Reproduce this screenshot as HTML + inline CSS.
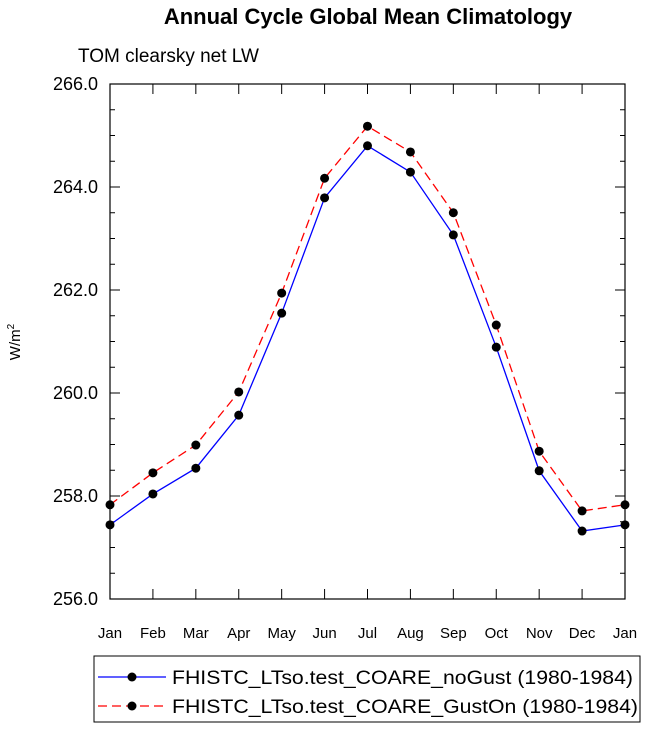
<!DOCTYPE html>
<html><head><meta charset="utf-8"><style>
body{margin:0;background:#fff;font-family:"Liberation Sans",Arial,sans-serif;}
</style></head><body>
<svg width="647" height="733" xmlns="http://www.w3.org/2000/svg" font-family="Liberation Sans, Arial, sans-serif">
<text x="368" y="24" text-anchor="middle" font-size="22" font-weight="bold">Annual Cycle Global Mean Climatology</text>
<text x="78" y="62" font-size="19">TOM clearsky net LW</text>
<text transform="translate(20,342) rotate(-90)" text-anchor="middle" font-size="15">W/m<tspan dy="-6" font-size="10">2</tspan></text>
<g id="axes"></g>
<g id="series"></g>
<g>
<rect x="94" y="656" width="546" height="66" fill="none" stroke="#000" stroke-width="1"/>
<line x1="98" y1="677" x2="166" y2="677" stroke="#0000ff" stroke-width="1.2"/>
<circle cx="132" cy="677" r="4.5" fill="#000"/>
<text x="172" y="684" font-size="19" textLength="461" lengthAdjust="spacingAndGlyphs">FHISTC_LTso.test_COARE_noGust (1980-1984)</text>
<line x1="98" y1="706" x2="166" y2="706" stroke="#ff0000" stroke-width="1.2" stroke-dasharray="9,5"/>
<circle cx="132" cy="706" r="4.5" fill="#000"/>
<text x="172" y="713" font-size="19" textLength="466" lengthAdjust="spacingAndGlyphs">FHISTC_LTso.test_COARE_GustOn (1980-1984)</text>
</g>
</svg>
<script>
const months=["Jan","Feb","Mar","Apr","May","Jun","Jul","Aug","Sep","Oct","Nov","Dec","Jan"];
const noGust=[257.44,258.04,258.54,259.57,261.55,263.79,264.80,264.29,263.07,260.89,258.49,257.32,257.44];
const gustOn=[257.83,258.45,258.99,260.02,261.94,264.17,265.18,264.68,263.50,261.32,258.87,257.71,257.83];
const yTicks=[256,258,260,262,264,266];
const L=110,R=625,T=84,B=599,ymin=256,ymax=266;
const NS="http://www.w3.org/2000/svg";
const xs=i=>L+(R-L)*i/(months.length-1);
const ys=v=>B-(B-T)*(v-ymin)/(ymax-ymin);
function mk(t,a,p){const e=document.createElementNS(NS,t);for(const k in a)e.setAttribute(k,a[k]);p.appendChild(e);return e;}
const ax=document.getElementById('axes');
const frame=mk('rect',{x:L,y:T,width:R-L,height:B-T,fill:'none',stroke:'#000','stroke-width':1.2},ax);


for(let v=ymin;v<=ymax+1e-9;v+=0.5){
 const maj=Math.abs(v/2-Math.round(v/2))<1e-9;const len=maj?10:5;const y=ys(v);
 mk('line',{x1:L,y1:y,x2:L+len,y2:y,stroke:'#000'},ax);
 mk('line',{x1:R,y1:y,x2:R-len,y2:y,stroke:'#000'},ax);
}
yTicks.forEach(v=>{const t=mk('text',{x:L-12,y:ys(v)+6,'text-anchor':'end','font-size':18},ax);t.textContent=v.toFixed(1);

});
months.forEach((m,i)=>{const x=xs(i);
 mk('line',{x1:x,y1:B,x2:x,y2:B-10,stroke:'#000'},ax);
 mk('line',{x1:x,y1:T,x2:x,y2:T+10,stroke:'#000'},ax);
 const t=mk('text',{x:x,y:B+39,'text-anchor':'middle','font-size':15},ax);t.textContent=m;
 
 });
const sg=document.getElementById('series');
function draw(vals,color,dash,name){
 const g=mk('g',{},sg);
 
 
 const a={points:vals.map((v,i)=>xs(i)+','+ys(v)).join(' '),fill:'none',stroke:color,'stroke-width':1.3};
 if(dash)a['stroke-dasharray']=dash;
 mk('polyline',a,g);
 vals.forEach((v,i)=>{const c=mk('circle',{cx:xs(i),cy:ys(v),r:4.5,fill:'#000'},g);
 
 });
}
draw(noGust,'#0000ff',null,'series-nogust');
draw(gustOn,'#ff0000','9,5','series-guston');
</script>
</body></html>
